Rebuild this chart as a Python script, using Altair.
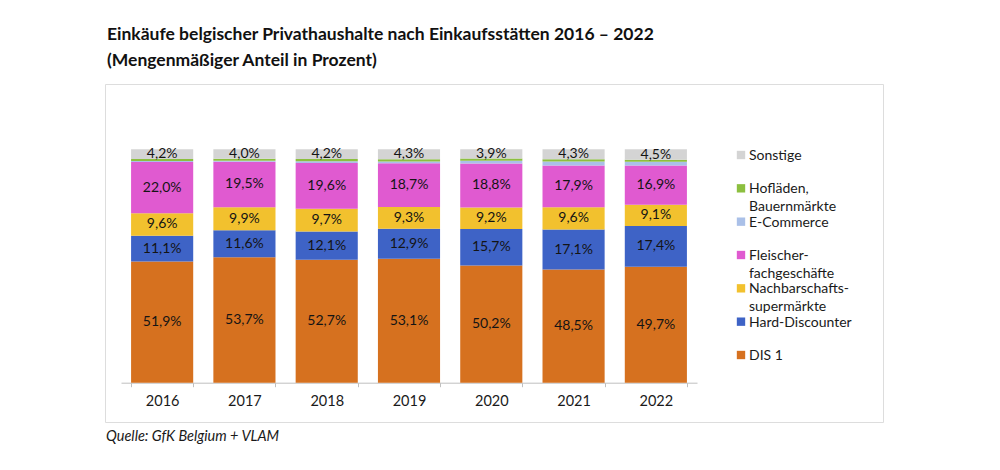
import altair as alt
import pandas as pd

# ---------------- data ----------------
years = ["2016", "2017", "2018", "2019", "2020", "2021", "2022"]
categories = ["DIS 1", "Hard-Discounter", "Nachbarschaftssupermärkte",
              "Fleischerfachgeschäfte", "E-Commerce", "Hofläden, Bauernmärkte", "Sonstige"]
dis1 = [51.9, 53.7, 52.7, 53.1, 50.2, 48.5, 49.7]
hard_discounter = [11.1, 11.6, 12.1, 12.9, 15.7, 17.1, 17.4]
nachbarschaft = [9.6, 9.9, 9.7, 9.3, 9.2, 9.6, 9.1]
fleischer = [22.0, 19.5, 19.6, 18.7, 18.8, 17.9, 16.9]
ecommerce = [0.4, 0.4, 0.8, 0.8, 1.2, 1.7, 1.6]
hoflaeden = [0.8, 0.9, 0.9, 0.9, 1.0, 0.9, 0.8]
sonstige = [4.2, 4.0, 4.2, 4.3, 3.9, 4.3, 4.5]
labelled = ["DIS 1", "Hard-Discounter", "Nachbarschaftssupermärkte",
            "Fleischerfachgeschäfte", "Sonstige"]

colors = ["#d6711f", "#3e63c6", "#f2c12e", "#e05ad0", "#aac0e8", "#8cbf3f", "#d4d4d4"]

legend_order = ["Sonstige", "Hofläden, Bauernmärkte", "E-Commerce", "Fleischerfachgeschäfte",
                "Nachbarschaftssupermärkte", "Hard-Discounter", "DIS 1"]
legend_labels = ["Sonstige", "Hofläden,\nBauernmärkte", "E-Commerce", "Fleischer-\nfachgeschäfte",
                 "Nachbarschafts-\nsupermärkte", "Hard-Discounter", "DIS 1"]

title_lines = ["Einkäufe belgischer Privathaushalte nach Einkaufsstätten 2016 – 2022",
               "(Mengenmäßiger Anteil in Prozent)"]
source_text = ["Quelle: GfK Belgium + VLAM"]

# ---------------- tables ----------------
series = [dis1, hard_discounter, nachbarschaft, fleischer, ecommerce, hoflaeden, sonstige]
rows = []
for ci, (cat, vals) in enumerate(zip(categories, series)):
    for y, v in zip(years, vals):
        rows.append({"year": y, "cat": cat, "value": v, "order": ci,
                     "show": cat in labelled})
df = pd.DataFrame(rows)

legend_df = pd.DataFrame({"cat": legend_order, "label": legend_labels,
                          "idx": list(range(len(legend_order)))})
source_df = pd.DataFrame({"text": source_text})

FONT = "Lato"
W, H = 778, 338

color_scale = alt.Scale(domain=categories, range=colors)
x_enc = alt.X("year:N", sort=years,
              scale=alt.Scale(range=[16, 592], paddingInner=0.245, paddingOuter=0.1225),
              axis=alt.Axis(title=None, labelAngle=0, labelFontSize=14.5, labelFont=FONT,
                            labelColor="#1a1a1a", labelPadding=8, tickSize=4,
                            tickColor="#bfbfbf", domainColor="#bfbfbf", tickBand="extent",
                            offset=-39.3))
y_scale = alt.Scale(domain=[0, 100], range=[298.7, 65.3])

base = alt.Chart(df).transform_stack(
    stack="value", groupby=["year"], as_=["y0", "y1"],
    sort=[alt.SortField("order", order="ascending")]
).transform_calculate(
    mid="(datum.y0 + datum.y1) / 2",
    label="replace(format(datum.value, '.1f'), '.', ',') + '%'"
)

bars = base.mark_bar().encode(
    x=x_enc,
    y=alt.Y("y0:Q", scale=y_scale, axis=None),
    y2="y1:Q",
    color=alt.Color("cat:N", scale=color_scale, legend=None),
)

labels = base.transform_filter("datum.show").mark_text(
    font=FONT, fontSize=14, color="#141414", baseline="middle"
).encode(
    x=x_enc,
    y=alt.Y("mid:Q", scale=y_scale, axis=None),
    text="label:N",
)

leg_y = alt.Y("idx:Q", scale=alt.Scale(domain=[0, 6], range=[71, 271]), axis=None)
leg_sym = alt.Chart(legend_df).mark_square(size=70, opacity=1).encode(
    x=alt.value(636),
    y=leg_y,
    color=alt.Color("cat:N", scale=color_scale, legend=None),
)
leg_txt = alt.Chart(legend_df).mark_text(
    font=FONT, fontSize=14, color="#1a1a1a", align="left", baseline="alphabetic",
    dy=5, lineBreak="\n", lineHeight=17.5
).encode(
    x=alt.value(644),
    y=leg_y,
    text="label:N",
)

source = alt.Chart(source_df).mark_text(
    font=FONT, fontSize=14.5, fontStyle="italic", color="#1a1a1a", align="left",
    baseline="middle"
).encode(
    x=alt.value(1),
    y=alt.value(H + 15),
    text="text:N",
)

chart = alt.layer(bars, labels, leg_sym, leg_txt, source).resolve_scale(
    y="independent"
).properties(
    width=W, height=H,
    padding={"left": 97, "top": 17, "right": 10, "bottom": 10},
    title=alt.TitleParams(title_lines, anchor="start", frame="group", font=FONT,
                          fontSize=17.5, fontWeight="bold", color="#111111",
                          lineHeight=26, offset=15, dx=2),
).configure_view(
    stroke="#c8c8c8", strokeWidth=1.5
).configure(background="white")

chart.save("out.html", embed_options={"renderer": "svg", "actions": False})
